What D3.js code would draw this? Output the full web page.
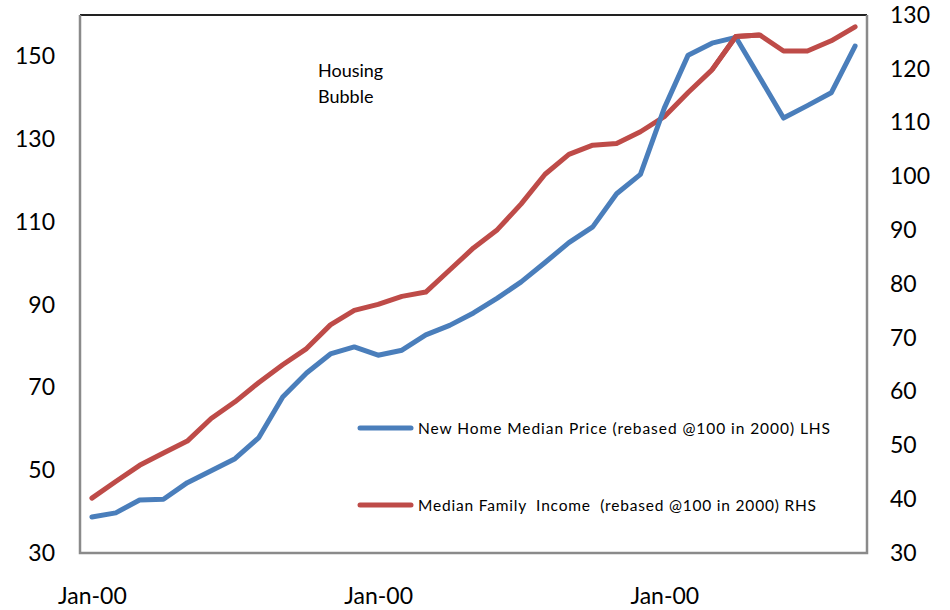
<!DOCTYPE html>
<html>
<head>
<meta charset="utf-8">
<script src="https://cdn.jsdelivr.net/npm/d3@7"></script>
<style>
  body { margin: 0; background: #fff; }
  svg text { font-family: Lato, "Open Sans", sans-serif; fill: #000; }
</style>
</head>
<body>
<svg id="chart"></svg>
<script>
// years on the category axis (Excel showed them all as "Jan-00")
const years = d3.range(1981, 2014);
const xTickYears = [1981, 1993, 2005];
const xTickLabel = "Jan-00";

// New home median price, rebased 100 in 2000 (left axis)
const homePrice = [38.7, 39.7, 42.8, 43, 47, 49.9, 52.8, 57.9, 67.7, 73.5,
  78.1, 79.8, 77.8, 79, 82.7, 85, 88, 91.6, 95.5, 100.2,
  105, 108.8, 116.8, 121.5, 137.5, 150.3, 153.2, 154.6, 144.9, 135.1,
  138.1, 141.2, 152.5];

// Median family income, rebased 100 in 2000 (right axis)
const familyIncome = [40.2, 43.3, 46.3, 48.6, 50.8, 55, 58.1, 61.7, 65, 68,
  72.4, 75.1, 76.2, 77.7, 78.5, 82.6, 86.7, 90.1, 94.9, 100.4,
  104.1, 105.8, 106.1, 108.3, 111.1, 115.6, 119.8, 126, 126.3, 123.3,
  123.3, 125.2, 127.8];

const leftTicks = [30, 50, 70, 90, 110, 130, 150];
const rightTicks = [30, 40, 50, 60, 70, 80, 90, 100, 110, 120, 130];

const seriesNames = [
  "New Home Median Price (rebased @100 in 2000) LHS",
  "Median Family  Income  (rebased @100 in 2000) RHS"
];

function draw() {
  const width = 950, height = 610;
  const margin = { top: 15, right: 83, bottom: 57, left: 80 };
  const blue = "#4a7ebb", red = "#be4b48";

  const svg = d3.select("#chart").attr("width", width).attr("height", height);

  const x = d3.scalePoint().domain(years).range([margin.left, width - margin.right]).padding(0.5);
  const yL = d3.scaleLinear().domain([30, 160]).range([height - margin.bottom, margin.top]);
  const yR = d3.scaleLinear().domain([30, 130]).range([height - margin.bottom, margin.top]);

  // plot frame
  svg.append("line").attr("x1", margin.left).attr("x2", width - margin.right)
    .attr("y1", margin.top).attr("y2", margin.top).attr("stroke", "#222").attr("stroke-width", 2);
  svg.append("path")
    .attr("d", `M${margin.left},${margin.top}V${height - margin.bottom}H${width - margin.right}V${margin.top}`)
    .attr("fill", "none").attr("stroke", "#8a8a8a").attr("stroke-width", 2.5);

  const gL = svg.append("g").attr("transform", `translate(${margin.left},0)`)
    .call(d3.axisLeft(yL).tickValues(leftTicks).tickSize(0).tickPadding(25));
  const gR = svg.append("g").attr("transform", `translate(${width - margin.right},0)`)
    .call(d3.axisRight(yR).tickValues(rightTicks).tickSize(0).tickPadding(23));
  const gB = svg.append("g").attr("transform", `translate(0,${height - margin.bottom})`)
    .call(d3.axisBottom(x).tickValues(xTickYears).tickFormat(() => xTickLabel).tickSize(0).tickPadding(35));
  [gL, gR, gB].forEach(g => {
    g.select(".domain").remove();
    g.selectAll("text").style("font-size", "23px").attr("fill", "#000");
  });

  const lineL = d3.line().x((d, i) => x(years[i])).y(d => yL(d));
  const lineR = d3.line().x((d, i) => x(years[i])).y(d => yR(d));

  svg.append("path").datum(familyIncome).attr("fill", "none").attr("stroke", red)
    .attr("stroke-width", 5).attr("stroke-linejoin", "round").attr("stroke-linecap", "round").attr("d", lineR);
  svg.append("path").datum(homePrice).attr("fill", "none").attr("stroke", blue)
    .attr("stroke-width", 5).attr("stroke-linejoin", "round").attr("stroke-linecap", "round").attr("d", lineL);
  // red drawn on top where it crosses at the peak
  svg.append("path").datum(familyIncome.slice(26, 29)).attr("fill", "none").attr("stroke", red)
    .attr("stroke-width", 5).attr("stroke-linejoin", "round")
    .attr("d", d3.line().x((d, i) => x(years[i + 26])).y(d => yR(d)));

  // annotation
  const note = svg.append("text").attr("x", 318).attr("y", 77).style("font-size", "18px");
  note.append("tspan").attr("x", 318).text("Housing");
  note.append("tspan").attr("x", 318).attr("dy", 26).text("Bubble");

  // legend
  const legend = svg.append("g");
  [{ name: seriesNames[0], color: blue, y: 428, len: 412 },
   { name: seriesNames[1], color: red, y: 505, len: 398 }].forEach(d => {
    legend.append("line").attr("x1", 360).attr("x2", 411).attr("y1", d.y).attr("y2", d.y)
      .attr("stroke", d.color).attr("stroke-width", 5).attr("stroke-linecap", "round");
    legend.append("text").attr("x", 418).attr("y", d.y + 6).style("font-size", "15.5px")
      .attr("textLength", d.len).attr("lengthAdjust", "spacing").attr("xml:space", "preserve")
      .text(d.name);
  });
}

draw();
</script>
</body>
</html>
